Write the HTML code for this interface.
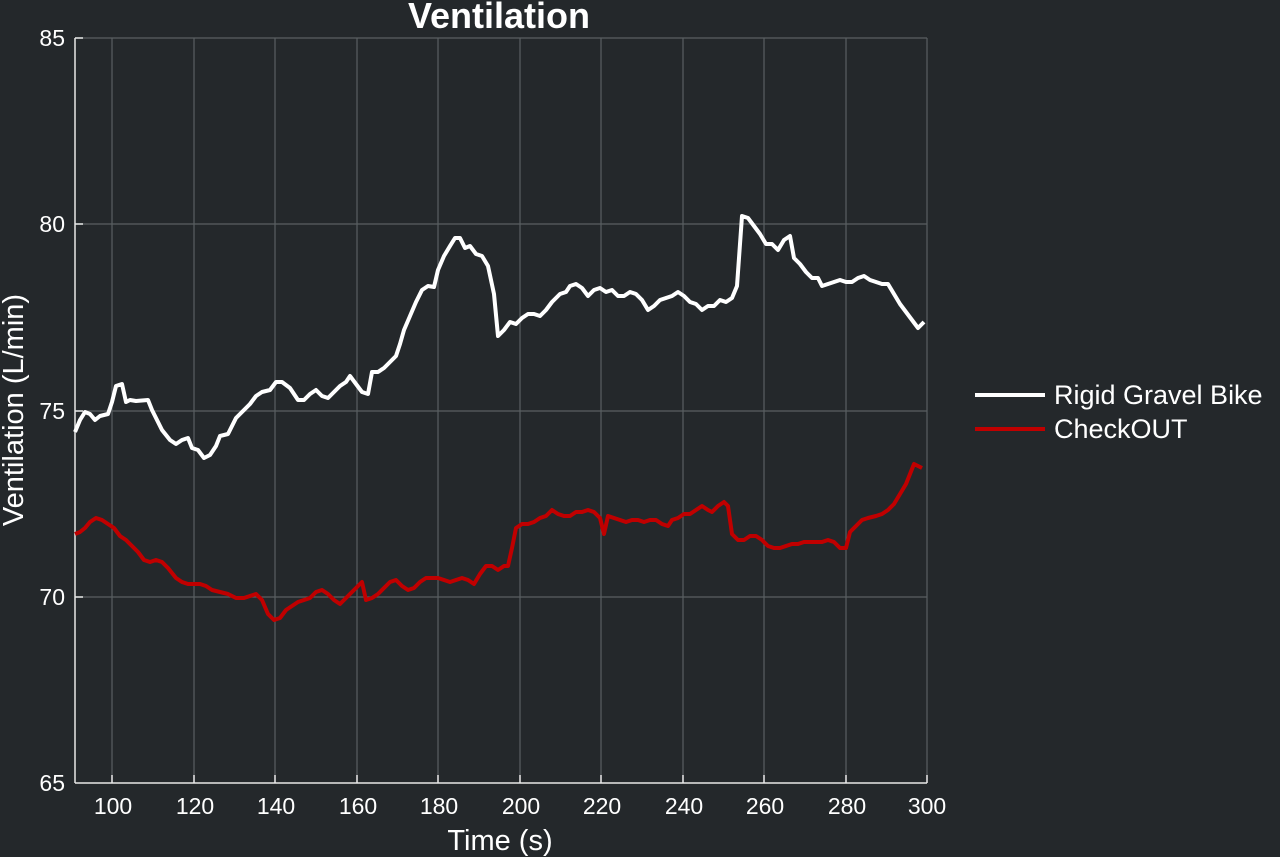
<!DOCTYPE html>
<html><head><meta charset="utf-8"><style>
html,body{margin:0;padding:0;background:#24282b;}
svg{display:block;font-family:"Liberation Sans",Arial,sans-serif;}
</style></head><body>
<svg width="1280" height="857" viewBox="0 0 1280 857">
<rect width="1280" height="857" fill="#24282b"/>
<g stroke="#5a5f62" stroke-width="1.2">
<line x1="112" y1="38" x2="112" y2="783"/><line x1="194" y1="38" x2="194" y2="783"/><line x1="275" y1="38" x2="275" y2="783"/><line x1="357" y1="38" x2="357" y2="783"/><line x1="438" y1="38" x2="438" y2="783"/><line x1="520" y1="38" x2="520" y2="783"/><line x1="601" y1="38" x2="601" y2="783"/><line x1="683" y1="38" x2="683" y2="783"/><line x1="764" y1="38" x2="764" y2="783"/><line x1="846" y1="38" x2="846" y2="783"/><line x1="927" y1="38" x2="927" y2="783"/>
<line x1="75" y1="38" x2="927" y2="38"/><line x1="75" y1="224" x2="927" y2="224"/><line x1="75" y1="411" x2="927" y2="411"/><line x1="75" y1="597" x2="927" y2="597"/>
</g>
<g stroke="#e8e8e8" stroke-width="1.5">
<line x1="75" y1="38" x2="75" y2="783"/><line x1="75" y1="783" x2="927" y2="783"/>
<line x1="75" y1="38" x2="83" y2="38"/><line x1="75" y1="224" x2="83" y2="224"/><line x1="75" y1="411" x2="83" y2="411"/><line x1="75" y1="597" x2="83" y2="597"/>
<line x1="112" y1="783" x2="112" y2="775"/><line x1="194" y1="783" x2="194" y2="775"/><line x1="275" y1="783" x2="275" y2="775"/><line x1="357" y1="783" x2="357" y2="775"/><line x1="438" y1="783" x2="438" y2="775"/><line x1="520" y1="783" x2="520" y2="775"/><line x1="601" y1="783" x2="601" y2="775"/><line x1="683" y1="783" x2="683" y2="775"/><line x1="764" y1="783" x2="764" y2="775"/><line x1="846" y1="783" x2="846" y2="775"/><line x1="927" y1="783" x2="927" y2="775"/>
</g>
<g fill="#ffffff" font-size="23" text-anchor="end">
<text x="65" y="46">85</text><text x="65" y="232">80</text><text x="65" y="419">75</text><text x="65" y="605">70</text><text x="65" y="791">65</text>
</g>
<g fill="#ffffff" font-size="23" text-anchor="middle">
<text x="113" y="814">100</text><text x="195" y="814">120</text><text x="276" y="814">140</text><text x="358" y="814">160</text><text x="439" y="814">180</text><text x="521" y="814">200</text><text x="602" y="814">220</text><text x="684" y="814">240</text><text x="765" y="814">260</text><text x="847" y="814">280</text><text x="927" y="814">300</text>
</g>
<text x="500" y="850" fill="#fff" font-size="29" text-anchor="middle">Time (s)</text>
<text transform="translate(23,410) rotate(-90)" fill="#fff" font-size="29" text-anchor="middle">Ventilation (L/min)</text>
<text x="499" y="28" fill="#fff" font-size="36" font-weight="bold" text-anchor="middle">Ventilation</text>
<polyline fill="none" stroke="#ffffff" stroke-width="4" stroke-linejoin="round" points="75,432 80,420 85,412 90,414 95,420 100,416 108,414 112,402 116,386 122,384 126,402 130,400 136,401 148,400 152,410 158,422 162,430 170,440 176,444 182,440 188,438 192,448 198,450 204,458 210,455 216,446 220,436 228,434 236,418 244,410 250,404 256,396 262,392 270,390 276,382 282,382 290,388 298,400 304,400 310,394 316,390 322,396 328,398 334,392 340,386 346,382 350,376 356,384 362,392 368,394 372,372 378,372 384,368 390,362 396,356 400,344 404,330 410,316 416,302 422,290 428,286 434,287 438,270 444,256 450,246 455,238 460,238 465,248 470,246 476,254 482,256 488,266 494,294 498,336 504,330 510,322 516,324 522,318 528,314 534,314 540,316 546,310 552,302 560,294 566,292 570,286 576,284 582,288 588,296 594,290 600,288 606,292 612,290 618,296 624,296 630,292 636,294 642,300 648,310 654,306 660,300 666,298 672,296 678,292 684,296 690,302 696,304 702,310 708,306 714,306 720,300 726,302 732,298 737,286 742,216 748,218 754,226 760,234 766,244 772,244 778,250 784,240 790,236 794,258 800,264 806,272 812,278 818,278 822,286 828,284 834,282 840,280 846,282 852,282 858,278 864,276 870,280 876,282 882,284 888,284 894,294 900,304 906,312 912,320 918,328 924,322"/>
<polyline fill="none" stroke="#c00000" stroke-width="4" stroke-linejoin="round" points="75,534 80,532 85,528 90,522 96,518 102,520 108,524 114,528 120,536 126,540 132,546 138,552 144,560 150,562 156,560 162,562 168,568 176,578 182,582 188,584 200,584 206,586 212,590 220,592 228,594 236,598 244,598 250,596 256,594 262,600 268,614 274,620 280,618 286,610 292,606 298,602 304,600 310,598 316,592 322,590 328,594 334,600 340,604 346,598 352,592 358,586 362,582 366,600 372,598 378,594 384,588 390,582 396,580 402,586 408,590 414,588 420,582 426,578 432,578 438,578 444,580 450,582 456,580 462,578 468,580 474,584 480,574 486,566 492,566 498,570 504,566 508,566 512,548 516,528 522,524 528,524 534,522 540,518 546,516 552,510 558,514 564,516 570,516 576,512 582,512 588,510 594,512 600,518 604,534 608,516 614,518 620,520 626,522 632,520 638,520 644,522 650,520 656,520 662,524 668,526 672,520 678,518 684,514 690,514 696,510 702,506 708,510 712,512 718,506 724,502 728,506 732,534 738,540 744,540 750,536 756,536 762,540 768,546 774,548 780,548 786,546 792,544 798,544 804,542 810,542 816,542 822,542 828,540 834,542 840,548 846,548 850,532 856,526 862,520 868,518 876,516 882,514 888,510 894,504 900,494 906,484 910,474 914,464 918,466 922,468"/>
<line x1="975" y1="395" x2="1045" y2="395" stroke="#fff" stroke-width="4"/>
<line x1="975" y1="429" x2="1045" y2="429" stroke="#c00000" stroke-width="4"/>
<text x="1054" y="404" fill="#fff" font-size="27">Rigid Gravel Bike</text>
<text x="1054" y="438" fill="#fff" font-size="27">CheckOUT</text>
</svg>
</body></html>
